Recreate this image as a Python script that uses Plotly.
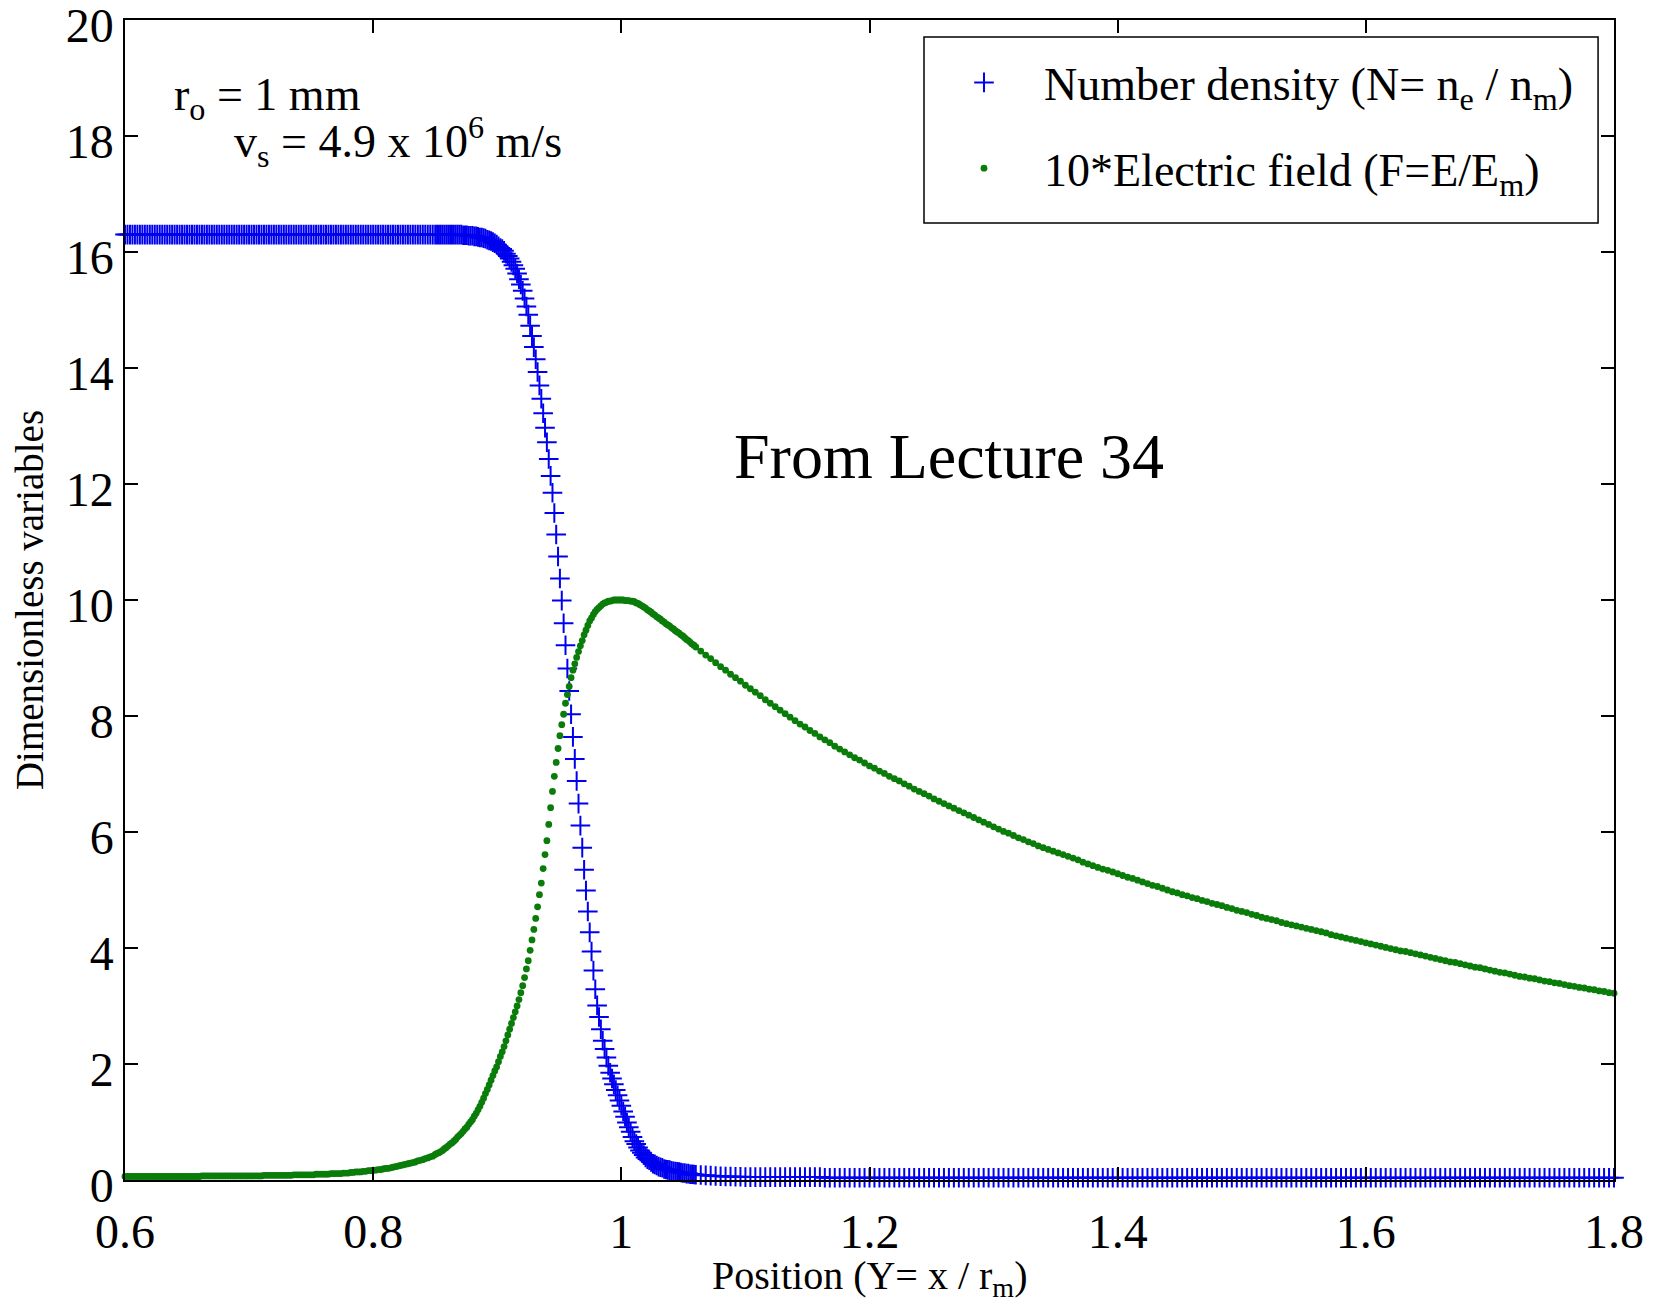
import numpy as np
import plotly.graph_objects as go

# ---------------- data ----------------
# sample positions: uniform steps matching the marker spacing seen in the plot
X_A = np.arange(0.600, 0.8490, 0.002)    # 125 samples, flat region
X_B = np.arange(0.850, 1.0601, 0.0015)   # 141 samples, front region
X_C = np.arange(1.064, 1.8001, 0.004)    # 185 samples, tail region

# Number density N = n_e / n_m
N_A = [
    16.3, 16.3, 16.3, 16.3, 16.3, 16.3, 16.3, 16.3, 16.3, 16.3,
    16.3, 16.3, 16.3, 16.3, 16.3, 16.3, 16.3, 16.3, 16.3, 16.3,
    16.3, 16.3, 16.3, 16.3, 16.3, 16.3, 16.3, 16.3, 16.3, 16.3,
    16.3, 16.3, 16.3, 16.3, 16.3, 16.3, 16.3, 16.3, 16.3, 16.3,
    16.3, 16.3, 16.3, 16.3, 16.3, 16.3, 16.3, 16.3, 16.3, 16.3,
    16.3, 16.3, 16.3, 16.3, 16.3, 16.3, 16.3, 16.3, 16.3, 16.3,
    16.3, 16.3, 16.3, 16.3, 16.3, 16.3, 16.3, 16.3, 16.3, 16.3,
    16.3, 16.3, 16.3, 16.3, 16.3, 16.3, 16.3, 16.3, 16.3, 16.3,
    16.3, 16.3, 16.3, 16.3, 16.3, 16.3, 16.3, 16.3, 16.3, 16.3,
    16.3, 16.3, 16.3, 16.3, 16.3, 16.3, 16.3, 16.3, 16.3, 16.3,
    16.3, 16.3, 16.3, 16.3, 16.3, 16.3, 16.3, 16.3, 16.3, 16.3,
    16.3, 16.3, 16.3, 16.3, 16.3, 16.3, 16.3, 16.3, 16.3, 16.3,
    16.3, 16.3, 16.3, 16.3, 16.3,
]
N_B = [
    16.30, 16.30, 16.30, 16.30, 16.30, 16.30, 16.30, 16.30, 16.30, 16.30,
    16.30, 16.30, 16.30, 16.30, 16.30, 16.29, 16.29, 16.29, 16.28, 16.28,
    16.28, 16.27, 16.27, 16.26, 16.25, 16.25, 16.24, 16.23, 16.21, 16.20,
    16.19, 16.17, 16.15, 16.13, 16.10, 16.07, 16.05, 16.02, 15.97, 15.93,
    15.89, 15.83, 15.77, 15.71, 15.63, 15.53, 15.44, 15.33, 15.20, 15.06,
    14.92, 14.73, 14.55, 14.36, 14.15, 13.93, 13.70, 13.47, 13.22, 12.97,
    12.72, 12.43, 12.14, 11.85, 11.50, 11.13, 10.75, 10.37, 9.99, 9.60,
    9.22, 8.82, 8.43, 8.03, 7.64, 7.26, 6.88, 6.49, 6.11, 5.73,
    5.35, 4.99, 4.63, 4.27, 3.94, 3.61, 3.29, 3.01, 2.81, 2.60,
    2.40, 2.26, 2.11, 1.97, 1.85, 1.75, 1.65, 1.55, 1.46, 1.37,
    1.28, 1.18, 1.09, 0.99, 0.91, 0.83, 0.74, 0.67, 0.62, 0.56,
    0.51, 0.47, 0.43, 0.39, 0.36, 0.34, 0.31, 0.28, 0.27, 0.25,
    0.23, 0.22, 0.21, 0.19, 0.18, 0.175, 0.17, 0.16, 0.15, 0.145,
    0.14, 0.135, 0.13, 0.12, 0.12, 0.11, 0.11, 0.10, 0.10, 0.095,
    0.09,
]
N_C = [
    0.085, 0.08, 0.075, 0.07, 0.065, 0.06, 0.06, 0.055, 0.055, 0.05,
    0.05, 0.05, 0.05, 0.05, 0.05, 0.05, 0.05, 0.05, 0.05, 0.05,
    0.05, 0.05, 0.05, 0.05, 0.05, 0.04, 0.04, 0.04, 0.04, 0.04,
    0.04, 0.04, 0.04, 0.04, 0.04, 0.04, 0.04, 0.04, 0.04, 0.04,
    0.04, 0.04, 0.04, 0.04, 0.04, 0.04, 0.04, 0.04, 0.04, 0.04,
    0.04, 0.04, 0.04, 0.04, 0.04, 0.04, 0.04, 0.04, 0.04, 0.04,
    0.04, 0.04, 0.04, 0.04, 0.04, 0.04, 0.04, 0.04, 0.04, 0.04,
    0.04, 0.04, 0.04, 0.04, 0.04, 0.04, 0.04, 0.04, 0.04, 0.04,
    0.04, 0.04, 0.04, 0.04, 0.04, 0.04, 0.04, 0.04, 0.04, 0.04,
    0.04, 0.04, 0.04, 0.04, 0.04, 0.04, 0.04, 0.04, 0.04, 0.04,
    0.04, 0.04, 0.04, 0.04, 0.04, 0.04, 0.04, 0.04, 0.04, 0.04,
    0.04, 0.04, 0.04, 0.04, 0.04, 0.04, 0.04, 0.04, 0.04, 0.04,
    0.04, 0.04, 0.04, 0.04, 0.04, 0.04, 0.04, 0.04, 0.04, 0.04,
    0.04, 0.04, 0.04, 0.04, 0.04, 0.04, 0.04, 0.04, 0.04, 0.04,
    0.04, 0.04, 0.04, 0.04, 0.04, 0.04, 0.04, 0.04, 0.04, 0.04,
    0.04, 0.04, 0.04, 0.04, 0.04, 0.04, 0.04, 0.04, 0.04, 0.04,
    0.04, 0.04, 0.04, 0.04, 0.04, 0.04, 0.04, 0.04, 0.04, 0.04,
    0.04, 0.04, 0.04, 0.04, 0.04, 0.04, 0.04, 0.04, 0.04, 0.04,
    0.04, 0.04, 0.04, 0.04, 0.04,
]

# 10 * Electric field F = E / E_m
F_A = [
    0.06, 0.06, 0.06, 0.06, 0.06, 0.06, 0.06, 0.06, 0.06, 0.06,
    0.06, 0.06, 0.06, 0.06, 0.06, 0.06, 0.06, 0.06, 0.06, 0.06,
    0.06, 0.06, 0.06, 0.06, 0.06, 0.06, 0.06, 0.06, 0.06, 0.06,
    0.06, 0.07, 0.07, 0.07, 0.07, 0.07, 0.07, 0.07, 0.07, 0.07,
    0.07, 0.07, 0.07, 0.07, 0.07, 0.07, 0.07, 0.07, 0.07, 0.07,
    0.07, 0.07, 0.07, 0.07, 0.07, 0.07, 0.08, 0.08, 0.08, 0.08,
    0.08, 0.08, 0.08, 0.08, 0.08, 0.08, 0.08, 0.08, 0.09, 0.09,
    0.09, 0.09, 0.09, 0.09, 0.09, 0.09, 0.09, 0.10, 0.10, 0.10,
    0.10, 0.10, 0.10, 0.11, 0.11, 0.11, 0.11, 0.11, 0.12, 0.12,
    0.12, 0.13, 0.13, 0.14, 0.14, 0.14, 0.15, 0.15, 0.16, 0.16,
    0.17, 0.17, 0.18, 0.18, 0.19, 0.20, 0.20, 0.21, 0.22, 0.23,
    0.24, 0.25, 0.26, 0.27, 0.28, 0.29, 0.30, 0.31, 0.33, 0.34,
    0.35, 0.37, 0.38, 0.40, 0.41,
]
F_B = [
    0.44, 0.46, 0.47, 0.49, 0.51, 0.54, 0.56, 0.59, 0.62, 0.64,
    0.67, 0.70, 0.74, 0.77, 0.80, 0.84, 0.88, 0.91, 0.96, 1.00,
    1.04, 1.10, 1.15, 1.21, 1.27, 1.34, 1.41, 1.49, 1.56, 1.64,
    1.72, 1.80, 1.88, 1.95, 2.04, 2.13, 2.21, 2.30, 2.40, 2.50,
    2.60, 2.70, 2.80, 2.90, 3.00, 3.11, 3.23, 3.35, 3.49, 3.64,
    3.78, 3.96, 4.14, 4.32, 4.51, 4.71, 4.92, 5.12, 5.37, 5.61,
    5.85, 6.13, 6.42, 6.70, 6.96, 7.20, 7.44, 7.66, 7.85, 8.03,
    8.22, 8.37, 8.51, 8.66, 8.79, 8.90, 9.01, 9.11, 9.21, 9.30,
    9.40, 9.48, 9.56, 9.64, 9.69, 9.75, 9.80, 9.84, 9.87, 9.90,
    9.93, 9.95, 9.96, 9.98, 9.98, 9.99, 10.00, 10.00, 10.00, 10.00,
    10.00, 10.00, 9.99, 9.99, 9.99, 9.98, 9.98, 9.97, 9.95, 9.94,
    9.92, 9.90, 9.88, 9.86, 9.83, 9.81, 9.79, 9.76, 9.74, 9.71,
    9.69, 9.67, 9.64, 9.62, 9.59, 9.57, 9.55, 9.52, 9.50, 9.47,
    9.45, 9.43, 9.40, 9.38, 9.35, 9.32, 9.30, 9.27, 9.24, 9.22,
    9.19,
]
F_C = [
    9.12, 9.05, 8.99, 8.92, 8.85, 8.79, 8.72, 8.66, 8.60, 8.53,
    8.47, 8.41, 8.35, 8.28, 8.22, 8.16, 8.10, 8.04, 7.98, 7.92,
    7.86, 7.81, 7.75, 7.70, 7.64, 7.59, 7.54, 7.48, 7.43, 7.38,
    7.33, 7.28, 7.24, 7.19, 7.14, 7.10, 7.05, 7.01, 6.96, 6.92,
    6.88, 6.83, 6.79, 6.74, 6.70, 6.66, 6.62, 6.57, 6.53, 6.49,
    6.45, 6.41, 6.37, 6.33, 6.29, 6.25, 6.21, 6.17, 6.13, 6.09,
    6.05, 6.01, 5.98, 5.94, 5.90, 5.87, 5.83, 5.80, 5.76, 5.73,
    5.70, 5.67, 5.64, 5.61, 5.58, 5.55, 5.52, 5.48, 5.45, 5.42,
    5.39, 5.36, 5.34, 5.31, 5.28, 5.25, 5.22, 5.20, 5.17, 5.14,
    5.11, 5.08, 5.06, 5.03, 5.00, 4.97, 4.95, 4.92, 4.90, 4.87,
    4.85, 4.82, 4.80, 4.77, 4.75, 4.73, 4.70, 4.68, 4.65, 4.63,
    4.61, 4.58, 4.56, 4.53, 4.51, 4.49, 4.47, 4.44, 4.42, 4.40,
    4.38, 4.36, 4.34, 4.32, 4.30, 4.28, 4.26, 4.23, 4.21, 4.19,
    4.17, 4.15, 4.13, 4.11, 4.09, 4.07, 4.05, 4.03, 4.01, 3.99,
    3.97, 3.95, 3.94, 3.92, 3.90, 3.88, 3.86, 3.84, 3.82, 3.80,
    3.78, 3.76, 3.75, 3.73, 3.71, 3.69, 3.67, 3.66, 3.64, 3.62,
    3.60, 3.58, 3.57, 3.55, 3.53, 3.51, 3.50, 3.48, 3.47, 3.45,
    3.43, 3.42, 3.40, 3.39, 3.37, 3.35, 3.34, 3.32, 3.31, 3.29,
    3.28, 3.26, 3.25, 3.23, 3.22,
]

X_TICKS = [0.6, 0.8, 1.0, 1.2, 1.4, 1.6, 1.8]
X_TICK_TEXT = ["0.6", "0.8", "1", "1.2", "1.4", "1.6", "1.8"]
Y_TICKS = [0, 2, 4, 6, 8, 10, 12, 14, 16, 18, 20]

NAME_N = "Number density (N= n<sub>e</sub> / n<sub>m</sub>)"
NAME_F = "10*Electric field (F=E/E<sub>m</sub>)"

# ---------------- assemble ----------------
X = np.round(np.concatenate([X_A, X_B, X_C]), 4)
N = np.array(N_A + N_B + N_C)
F = np.array(F_A + F_B + F_C)
nn = min(len(X), len(N))
nf = min(len(X), len(F))

SERIF = "Liberation Serif, Times New Roman, serif"
BLUE = "#0000f0"
GREEN = "#0a7c0a"

fig = go.Figure()
fig.add_trace(go.Scatter(
    x=X[:nn], y=N[:nn], mode="markers", name=NAME_N, legendgroup="n",
    cliponaxis=False,
    marker=dict(symbol="cross-thin", size=14, color=BLUE,
                line=dict(width=2.0, color=BLUE)),
))
fig.add_trace(go.Scatter(
    x=X[:nf], y=F[:nf], mode="markers", name=NAME_F, legendgroup="f",
    cliponaxis=False,
    marker=dict(symbol="circle", size=6.8, color=GREEN, line=dict(width=0)),
))

axis_common = dict(
    showline=True, linecolor="black", linewidth=1.5, mirror="ticks",
    ticks="inside", ticklen=13, tickwidth=1.5, tickcolor="black",
    showgrid=False, zeroline=False, automargin=False,
    ticklabeloverflow="allow",
    tickfont=dict(family=SERIF, size=48, color="black"),
)

fig.update_layout(
    width=1663, height=1308,
    # the page body adds an 8 px offset, margins compensate for it
    margin=dict(l=117, r=57, t=12, b=136, autoexpand=False),
    paper_bgcolor="white", plot_bgcolor="white",
    font=dict(family=SERIF, color="black"),
    xaxis=dict(range=[0.6, 1.8], tickvals=X_TICKS, ticktext=X_TICK_TEXT,
               ticklabelstandoff=9, **axis_common),
    yaxis=dict(range=[0, 20], tickvals=Y_TICKS, ticklabelshift=5,
               title=dict(text="Dimensionless variables",
                          font=dict(family=SERIF, size=39, color="black"),
                          standoff=10),
               **axis_common),
    showlegend=True,
    legend=dict(x=0.5366, y=0.9776, xanchor="left", yanchor="top",
                bgcolor="rgba(0,0,0,0)", borderwidth=0,
                font=dict(family=SERIF, size=46, color="black"),
                itemwidth=110, tracegroupgap=23),
    shapes=[
        # legend frame
        dict(type="rect", xref="paper", yref="paper",
             x0=0.5366, x1=0.9893, y0=0.825, y1=0.9853,
             line=dict(color="black", width=1.5), fillcolor="white",
             layer="below"),
    ],
    annotations=[
        dict(x=0.5, y=-0.0845, xref="paper", yref="paper",
             xanchor="center", yanchor="middle",
             text="Position (Y= x / r<sub>m</sub>)", showarrow=False,
             font=dict(family=SERIF, size=40, color="black")),
        dict(x=0.638, y=18.66, xref="x", yref="y", xanchor="left", yanchor="middle",
             text="r<sub>o</sub> = 1 mm", showarrow=False,
             font=dict(family=SERIF, size=46, color="black")),
        dict(x=0.686, y=17.91, xref="x", yref="y", xanchor="left", yanchor="middle",
             text="v<sub>s</sub> = 4.9 x 10<sup>6</sup> m/s", showarrow=False,
             font=dict(family=SERIF, size=46, color="black")),
        dict(x=1.264, y=12.47, xref="x", yref="y", xanchor="center", yanchor="middle",
             text="From Lecture 34", showarrow=False,
             font=dict(family=SERIF, size=64, color="black")),
    ],
)

fig.write_html("out.html")
